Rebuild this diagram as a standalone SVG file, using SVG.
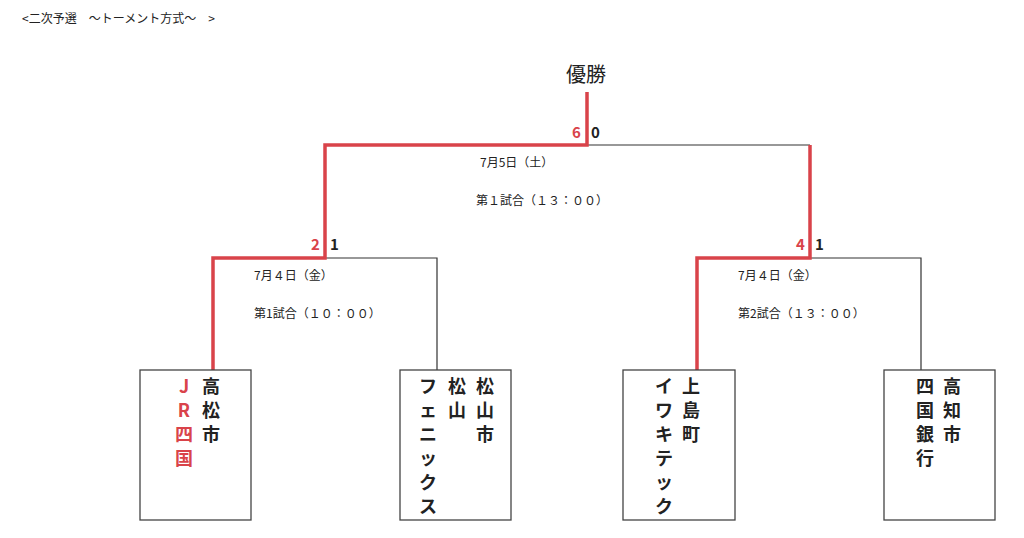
<svg xmlns="http://www.w3.org/2000/svg" width="1024" height="538" viewBox="0 0 1024 538">
<style>
text{font-family:"Noto Sans CJK JP","Noto Sans",sans-serif;fill:#222}
.s{font-size:12px}
.v{font-size:18px;font-weight:bold;text-anchor:middle}
.r{fill:#d9434a}
.sc{font-size:15px;font-weight:bold}
.box{fill:#fff;stroke:#444;stroke-width:1.3}
.k{fill:none;stroke:#333;stroke-width:1.2}
.w{fill:none;stroke:#d9434a;stroke-width:3.5}
</style>
<rect width="1024" height="538" fill="#fff"/>
<text class="s" x="22" y="23">&lt;二次予選　～トーメント方式～　&gt;</text>
<text x="586" y="82" font-size="20" text-anchor="middle">優勝</text>
<g id="connectors">
<path class="k" d="M587 145H810M325 258H437V370M810 258H921V370"/>
<path class="w" d="M213 370V258H325V145H587V92M697 370V258H810V145"/>
</g>
<g id="scores">
<text class="sc r" x="572" y="138">6</text><text class="sc" x="591" y="138">0</text>
<text class="sc r" x="311" y="250">2</text><text class="sc" x="330" y="250">1</text>
<text class="sc r" x="796" y="250">4</text><text class="sc" x="815" y="250">1</text>
</g>
<g id="labels">
<text class="s" x="480" y="167">7月5日（土）</text>
<text class="s" x="476" y="205">第１試合（１３：００）</text>
<text class="s" x="254" y="280">7月４日（金）</text>
<text class="s" x="254" y="318">第1試合（１０：００）</text>
<text class="s" x="738" y="280">7月４日（金）</text>
<text class="s" x="738" y="318">第2試合（１３：００）</text>
</g>
<g id="n1"><rect class="box" x="140" y="370" width="111" height="150"/>
<text class="v r" x="184"><tspan x="184" y="393">J</tspan><tspan x="184" y="417">R</tspan><tspan x="184" y="441">四</tspan><tspan x="184" y="465">国</tspan></text>
<text class="v" x="211"><tspan x="211" y="393">高</tspan><tspan x="211" y="417">松</tspan><tspan x="211" y="441">市</tspan></text></g>
<g id="n2"><rect class="box" x="400" y="370" width="111" height="150"/>
<text class="v" x="428"><tspan x="428" y="393">フ</tspan><tspan x="428" y="417">ェ</tspan><tspan x="428" y="441">ニ</tspan><tspan x="428" y="465">ッ</tspan><tspan x="428" y="489">ク</tspan><tspan x="428" y="513">ス</tspan></text>
<text class="v" x="457"><tspan x="457" y="393">松</tspan><tspan x="457" y="417">山</tspan></text>
<text class="v" x="485"><tspan x="485" y="393">松</tspan><tspan x="485" y="417">山</tspan><tspan x="485" y="441">市</tspan></text></g>
<g id="n3"><rect class="box" x="623" y="370" width="112" height="150"/>
<text class="v" x="664"><tspan x="664" y="393">イ</tspan><tspan x="664" y="417">ワ</tspan><tspan x="664" y="441">キ</tspan><tspan x="664" y="465">テ</tspan><tspan x="664" y="489">ッ</tspan><tspan x="664" y="513">ク</tspan></text>
<text class="v" x="691"><tspan x="691" y="393">上</tspan><tspan x="691" y="417">島</tspan><tspan x="691" y="441">町</tspan></text></g>
<g id="n4"><rect class="box" x="884" y="370" width="111" height="150"/>
<text class="v" x="925"><tspan x="925" y="393">四</tspan><tspan x="925" y="417">国</tspan><tspan x="925" y="441">銀</tspan><tspan x="925" y="465">行</tspan></text>
<text class="v" x="952"><tspan x="952" y="393">高</tspan><tspan x="952" y="417">知</tspan><tspan x="952" y="441">市</tspan></text></g>
</svg>
